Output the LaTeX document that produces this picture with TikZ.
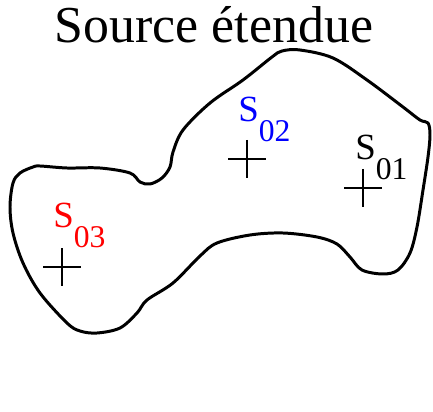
\documentclass[tikz,border=0pt]{standalone}
\usepackage{fontspec}
\setmainfont{Liberation Serif}

\newcommand{\srclab}[1]{S\raisebox{-11pt}{\fontsize{18}{18}\selectfont #1}}

\tikzset{
	contour/.style={line width=1.7pt, line join=round},
	croix/.style={line width=0.75pt},
	lab/.style={anchor=base west, inner sep=0pt, font=\fontsize{21}{21}\selectfont},
}

\begin{document}
\begin{tikzpicture}[x=0.02cm, y=-0.02cm]
			\useasboundingbox (0, 0) rectangle (433, 412);
			\node[anchor=base, inner sep=0pt, font=\fontsize{29.5}{30}\selectfont](titre) at (214, 43){Source étendue};
			% contour de la source
			\draw[contour] plot[smooth cycle, tension=0.55] coordinates {
				(40, 166) (67, 168) (100, 168) (130, 173) (140, 182) (150, 184) (162, 178)
				(170, 167) (173, 152) (183, 130) (210, 103) (243, 80) (272, 57) (282, 51)
				(300, 50) (333, 58) (367, 80) (403, 107) (420, 120) (428, 123) (430, 135)
				(428, 157) (423, 190) (417, 227) (410, 253) (398, 270) (383, 274) (362, 270)
				(350, 257) (337, 244) (317, 237) (283, 233) (250, 235) (217, 243) (200, 256)
				(173, 283) (147, 300) (137, 313) (120, 328) (97, 333) (80, 331) (67, 323)
				(40, 293) (23, 263) (13, 233) (10, 207) (13, 183) (20, 173) (33, 167)};
			% points sources
			\coordinate (C1) at (363, 188);
			\coordinate (C2) at (247, 159);
			\coordinate (C3) at (62, 267);
			\draw[croix] (C1) +(-19, 0) -- +(19, 0) (C1) +(0, -19) -- +(0, 19);
			\draw[croix] (C2) +(-19, 0) -- +(19, 0) (C2) +(0, -19) -- +(0, 19);
			\draw[croix] (C3) +(-19, 0) -- +(19, 0) (C3) +(0, -19) -- +(0, 19);
			\node[lab](S1) at (355, 160){\srclab{01}};
			\node[lab, text=blue](S2) at (238, 122){\srclab{02}};
			\node[lab, text=red](S3) at (53, 228){\srclab{03}};
		\end{tikzpicture}
\end{document}
